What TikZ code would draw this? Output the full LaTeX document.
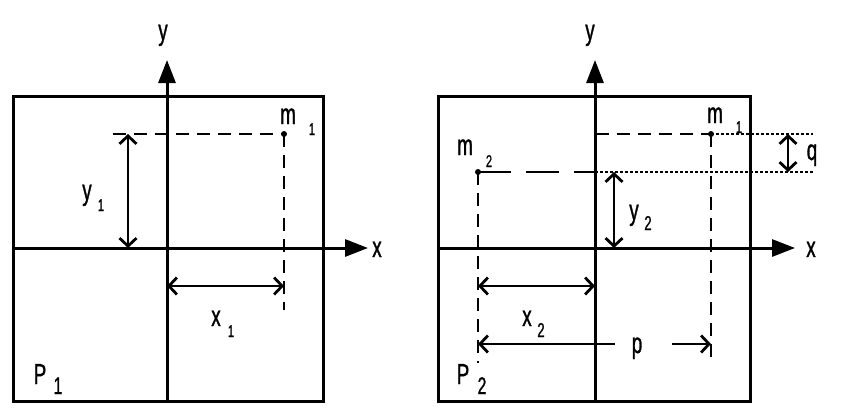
\documentclass[tikz,border=0pt]{standalone}
\usepackage{fontspec}
\newfontfamily\narrowfont[FakeStretch=0.65,FakeBold=1]{Liberation Sans}
\usetikzlibrary{arrows.meta}
\tikzset{
  frame/.style={line width=3pt},
  axis/.style={line width=3pt,-{Triangle[length=23pt,width=17pt]}},
  dim/.style={line width=2.8pt,{Straight Barb[length=8pt,width=17pt]}-{Straight Barb[length=8pt,width=17pt]}},
  dimL/.style={line width=2.8pt,{Straight Barb[length=8pt,width=17pt]}-},
  dimR/.style={line width=2.8pt,-{Straight Barb[length=8pt,width=17pt]}},
  guide/.style={line width=2.8pt,dash pattern=on 13pt off 8pt},
  longguide/.style={line width=2.8pt,dash pattern=on 33pt off 15pt},
  dotline/.style={line width=2.2pt,dash pattern=on 3pt off 2pt},
  lab/.style={inner sep=0pt,anchor=base,font=\narrowfont\fontsize{29}{29}\selectfont},
  sub/.style={inner sep=0pt,anchor=base,font=\narrowfont\fontsize{17}{17}\selectfont},
  midsub/.style={inner sep=0pt,anchor=base,font=\narrowfont\fontsize{20}{20}\selectfont},
  bigsub/.style={inner sep=0pt,anchor=base,font=\narrowfont\fontsize{24}{24}\selectfont},
  mass/.style={circle,fill,inner sep=0pt,minimum size=6pt},
}
\begin{document}
\begin{tikzpicture}[x=1pt,y=-1pt]
\useasboundingbox (0,0) rectangle (845,413);
% ---------- left panel ----------
\draw[frame] (13,96) rectangle (323,401);
\coordinate (LyB) at (167,401);
\coordinate (LyT) at (167,60);
\coordinate (LxL) at (13,248);
\coordinate (LxR) at (368,248);
\draw[axis] (LyB) -- (LyT);
\draw[axis] (LxL) -- (LxR);
\node[mass] (Lm1) at (284,134) {};
\coordinate (LhS) at (113,134);
\coordinate (LvE) at (284,310);
\draw[guide] (LhS) -- (Lm1.center);
\draw[guide] (Lm1.center) -- (LvE);
\coordinate (Ly1T) at (128,134);
\coordinate (Ly1B) at (128,248);
\draw[dim] (Ly1T) -- (Ly1B);
\coordinate (Lx1L) at (167,286);
\coordinate (Lx1R) at (284,286);
\draw[dim] (Lx1L) -- (Lx1R);
\node[lab] (Lylab) at (163,40) {y};
\node[lab] (Lxlab) at (377,257) {x};
\node[lab] (Lmlab) at (288,124) {m};
\node[sub] (Lmsub) at (312,135) {1};
\node[lab] (Ly1lab) at (87,200) {y};
\node[sub] (Ly1sub) at (101,211) {1};
\node[lab] (Lx1lab) at (216,326) {x};
\node[sub] (Lx1sub) at (231,337) {1};
\node[lab] (LPlab) at (40,384) {P};
\node[bigsub] (LPsub) at (58,394) {1};
% ---------- right panel ----------
\draw[frame] (438,96) rectangle (750,401);
\coordinate (RyB) at (595,401);
\coordinate (RyT) at (595,60);
\coordinate (RxL) at (438,248);
\coordinate (RxR) at (795,248);
\draw[axis] (RyB) -- (RyT);
\draw[axis] (RxL) -- (RxR);
\node[mass] (Rm1) at (711,134) {};
\node[mass] (Rm2) at (478,172) {};
\coordinate (Rh1S) at (596,134);
\coordinate (Rh1E) at (813,134);
\coordinate (Rh2M) at (595,172);
\coordinate (Rh2E) at (813,172);
\draw[guide] (Rh1S) -- (Rm1.center);
\draw[dotline] (Rm1.center) -- (Rh1E);
\draw[longguide] (Rm2.center) -- (Rh2M);
\draw[dotline] (Rh2M) -- (Rh2E);
\coordinate (Rv2E) at (478,363);
\coordinate (Rv1E) at (711,363);
\draw[guide] (Rm2.center) -- (Rv2E);
\draw[guide] (Rm1.center) -- (Rv1E);
\coordinate (RqT) at (788,134);
\coordinate (RqB) at (788,172);
\draw[dim] (RqT) -- (RqB);
\coordinate (Ry2T) at (614,172);
\coordinate (Ry2B) at (614,248);
\draw[dim] (Ry2T) -- (Ry2B);
\coordinate (Rx2L) at (478,286);
\coordinate (Rx2R) at (595,286);
\draw[dim] (Rx2L) -- (Rx2R);
\coordinate (RpL) at (478,344);
\coordinate (RpLe) at (615,344);
\coordinate (RpRs) at (672,344);
\coordinate (RpR) at (711,344);
\draw[dimL] (RpL) -- (RpLe);
\draw[dimR] (RpRs) -- (RpR);
\node[lab] (Rylab) at (590,40) {y};
\node[lab] (Rxlab) at (811,257) {x};
\node[lab] (Rm1lab) at (715,123) {m};
\node[sub] (Rm1sub) at (739,133) {1};
\node[lab] (Rm2lab) at (465,155) {m};
\node[sub] (Rm2sub) at (489,167) {2};
\node[lab] (Rqlab) at (812,160) {q};
\node[lab] (Ry2lab) at (634,220) {y};
\node[midsub] (Ry2sub) at (648,230) {2};
\node[lab] (Rx2lab) at (527,326) {x};
\node[midsub] (Rx2sub) at (541,337) {2};
\node[lab] (Rplab) at (637,353) {p};
\node[lab] (RPlab) at (463,384) {P};
\node[bigsub] (RPsub) at (482,394) {2};
\end{tikzpicture}
\end{document}
